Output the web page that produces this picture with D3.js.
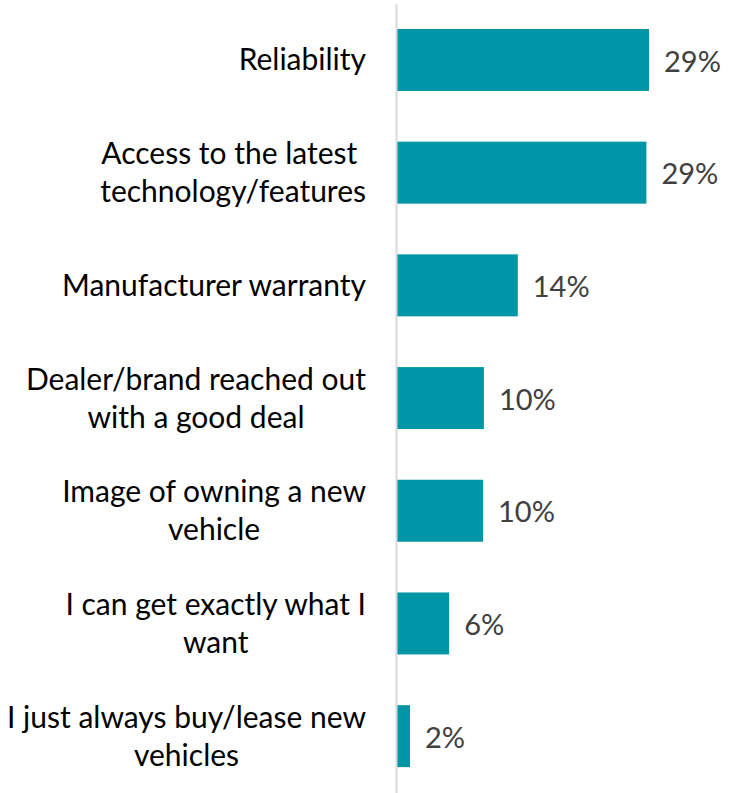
<!DOCTYPE html>
<html>
<head>
<meta charset="utf-8">
<script src="https://cdn.jsdelivr.net/npm/d3@7"></script>
<style>
  html, body { margin: 0; padding: 0; background: #fff; }
  svg { display: block; }
  text { font-family: Lato, "Open Sans", sans-serif; white-space: pre; }
</style>
</head>
<body>
<svg id="chart" width="732" height="793"></svg>
<script>
// Reasons for choosing a new vehicle (share of respondents, %)
const categories = [
  ["Reliability"],
  ["Access to the latest ", "technology/features"],
  ["Manufacturer warranty"],
  ["Dealer/brand reached out", "with a good deal"],
  ["Image of owning a new", "vehicle"],
  ["I can get exactly what I", "want"],
  ["I just always buy/lease new", "vehicles"]
];
const values = [29.0, 28.7, 13.9, 10.0, 9.9, 6.0, 1.5];
const valueLabels = ["29%", "29%", "14%", "10%", "10%", "6%", "2%"];

const W = 732, H = 793;
const axisX = 397;
const labelRight = 366;
const fontSize = 30;
const valueFontSize = 29;
const lineHeight = 38;
const barColor = "#0096A8";

const svg = d3.select("#chart");

const ids = d3.range(categories.length);

const x = d3.scaleLinear().domain([0, 29]).range([axisX, 649]);
const y = d3.scaleBand()
  .domain(ids)
  .range([3.6, 792.5])
  .paddingInner(0.45)
  .paddingOuter(0.225);

// Bars
svg.append("g")
  .selectAll("rect")
  .data(ids)
  .join("rect")
  .attr("x", x(0))
  .attr("y", i => y(i))
  .attr("width", i => x(values[i]) - x(0))
  .attr("height", y.bandwidth())
  .attr("fill", barColor);

// Vertical category axis (line only)
const axis = svg.append("g")
  .attr("transform", `translate(${axisX - 1},0)`)
  .call(d3.axisLeft(y).tickSize(0).tickFormat(""));
axis.select(".domain").attr("stroke", "#d9d9d9").attr("stroke-width", 2);
axis.selectAll(".tick").remove();

// Category labels: block right-aligned, lines centred within the block
const labelG = svg.append("g");
ids.forEach(i => {
  const lines = categories[i];
  const cy = y(i) + y.bandwidth() / 2;
  const g = labelG.append("g");
  const texts = lines.map((ln, k) =>
    g.append("text")
      .attr("font-size", fontSize)
      .attr("fill", "#000")
      .attr("text-anchor", "middle")
      .attr("dy", "0.35em")
      .attr("y", cy + (k - (lines.length - 1) / 2) * lineHeight)
      .text(ln)
  );
  const maxW = d3.max(texts, t => t.node().getComputedTextLength());
  texts.forEach(t => t.attr("x", labelRight - maxW / 2));
});

// Value labels
svg.append("g")
  .selectAll("text")
  .data(ids)
  .join("text")
  .attr("x", i => x(values[i]) + 15)
  .attr("y", i => y(i) + y.bandwidth() / 2)
  .attr("dy", "0.4em")
  .attr("font-size", valueFontSize)
  .attr("fill", "#404040")
  .text(i => valueLabels[i]);
</script>
</body>
</html>
